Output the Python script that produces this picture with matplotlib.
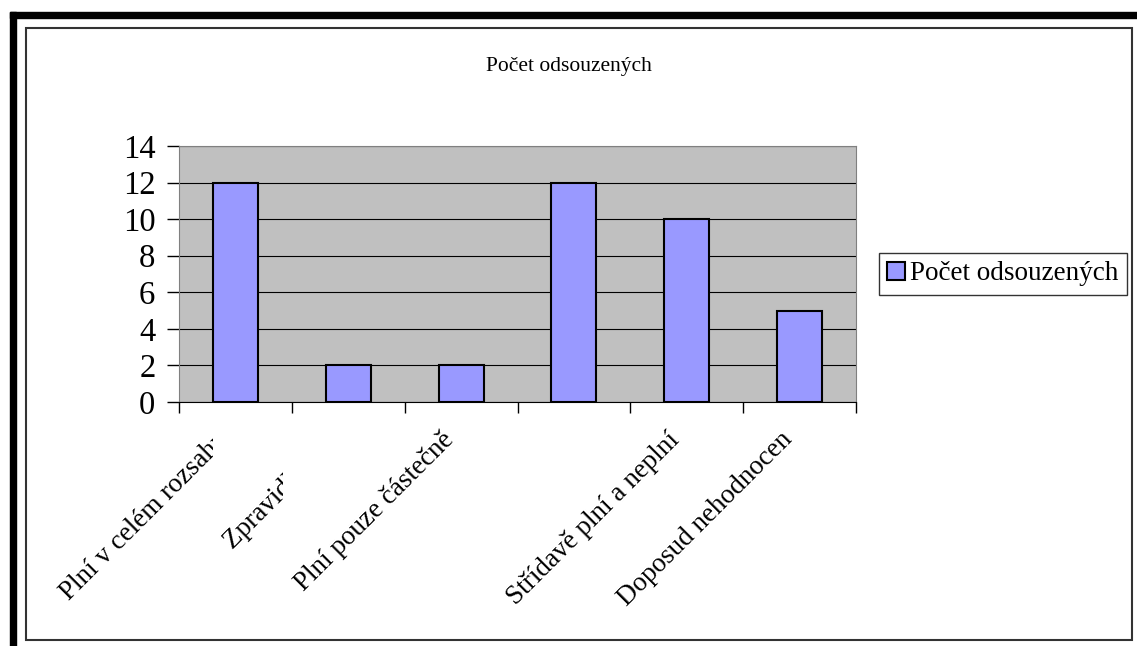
import matplotlib.pyplot as plt
from matplotlib.patches import Rectangle
from matplotlib.transforms import Bbox, TransformedBbox, blended_transform_factory

# Data
categories = [
    "Plní v celém rozsahu",
    "Zpravidla plní",
    "Plní pouze částečně",
    "",
    "Střídavě plní a neplní",
    "Doposud nehodnocen",
]
counts = [12, 2, 2, 12, 10, 5]
series_name = "Počet odsouzených"
title = "Počet odsouzených"

# Excel cut the two long labels off; right edge of the visible part (x in data units)
label_cut = {0: -0.2, 1: 0.42}

plt.rcParams["font.family"] = ["Liberation Serif", "DejaVu Serif"]

fig = plt.figure(figsize=(11.37, 6.46), dpi=100)

# outer frames
fig.patches.append(Rectangle((10 / 1137, 0), 6 / 1137, 634 / 646,
                             transform=fig.transFigure, color="black", zorder=0))
fig.patches.append(Rectangle((10 / 1137, 628 / 646), 1127 / 1137, 6 / 646,
                             transform=fig.transFigure, color="black", zorder=0))
fig.patches.append(Rectangle((26 / 1137, 6 / 646), 1106 / 1137, 612 / 646,
                             transform=fig.transFigure, fill=False,
                             edgecolor="#333333", linewidth=1.5, zorder=0))

ax = fig.add_axes([179 / 1137, 244 / 646, 677 / 1137, 256 / 646])
ax.set_facecolor("#C0C0C0")
x = list(range(len(categories)))
ax.bar(x, counts, 0.4, color="#9999FF", edgecolor="black", linewidth=1.5,
       label=series_name, zorder=3)

ax.set_xlim(-0.5, len(categories) - 0.5)
ax.set_ylim(0, 14)
ax.set_yticks(range(0, 15, 2))
ax.yaxis.grid(True, color="black", linewidth=0.8, zorder=1)
ax.tick_params(axis="y", labelsize=23.5, direction="out", length=9, width=1, pad=8)

# tick marks on category boundaries, labels drawn separately
ax.set_xticks([i - 0.5 for i in range(len(categories) + 1)])
ax.set_xticklabels([])
ax.tick_params(axis="x", direction="out", length=8, width=1)

xtrans = blended_transform_factory(ax.transData, ax.transAxes)
for i, name in enumerate(categories):
    t = ax.annotate(name, xy=(i, 0), xycoords=xtrans, xytext=(-20, -25),
                    textcoords="offset pixels", rotation=45, ha="right",
                    va="top", rotation_mode="anchor", fontsize=19.5,
                    annotation_clip=False)
    if i in label_cut:
        t.set_clip_box(TransformedBbox(Bbox([[-10, -10], [label_cut[i], 10]]), xtrans))
        t.set_clip_on(True)

for side in ["top", "right", "left"]:
    ax.spines[side].set_color("#808080")
ax.spines["bottom"].set_color("black")

fig.text(0.5, 1 - 67 / 646, title, ha="center", va="center", fontsize=15.5)

leg = fig.legend(loc="center left", bbox_to_anchor=(879 / 1137, 1 - 274 / 646),
                 fontsize=19.5, frameon=True, fancybox=False, handlelength=0.65,
                 handleheight=0.65, handletextpad=0.2, borderpad=0.3,
                 borderaxespad=0)
leg.get_frame().set_edgecolor("black")
leg.get_frame().set_linewidth(1)

fig.savefig("out.png", dpi=100)
